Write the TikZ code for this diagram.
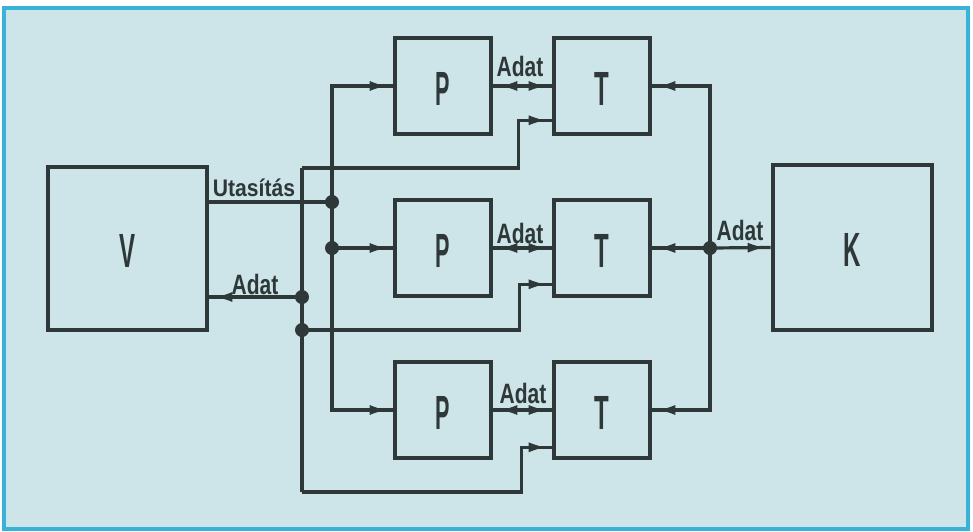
\documentclass[tikz,border=0pt]{standalone}
\usepackage{fontspec}
\setmainfont{Liberation Sans}
\usetikzlibrary{arrows.meta,calc}
\definecolor{bg}{HTML}{CDE4E8}
\definecolor{frame}{HTML}{38B2D6}
\definecolor{ink}{HTML}{2E3838}
\tikzset{
  myarr/.tip={Latex[length=16pt,width=10pt]}
}
\begin{document}
\begin{tikzpicture}[x=1pt,y=-1pt,
  conn/.style={draw=ink,line width=3.2pt},
  box/.style={draw=ink,line width=4.6pt,inner sep=0pt,minimum width=96pt,minimum height=96pt},
  bigbox/.style={box,minimum width=159pt,minimum height=163pt},
  big/.style={text=ink,font=\fontsize{48}{48}\selectfont\bfseries,inner sep=0pt},
  lab/.style={text=ink,font=\fontsize{28}{28}\selectfont\bfseries,inner sep=0pt},
  dot/.style={fill=ink},
  tipin/.style={postaction={draw=ink,line width=1pt,shorten >=7pt,-myarr}},
  tipboth/.style={postaction={draw=ink,line width=1pt,shorten >=7pt,shorten <=8pt,myarr-myarr}}
]
\useasboundingbox (0,0) rectangle (973,531);
\fill[white] (0,0) rectangle (973,531);
\fill[bg] (4,8) rectangle (968,529);
\draw[frame,line width=4pt] (4,8) rectangle (968,529);

% boxes
\node[bigbox] (V) at (127.5,248.5) {};
\node[bigbox,minimum height=165pt] (K) at (852.5,247.5) {};
\node[box] (P1) at (443,86) {};
\node[box] (P2) at (443,248) {};
\node[box] (P3) at (443,410) {};
\node[box] (T1) at (602,86) {};
\node[box] (T2) at (602,248) {};
\node[box] (T3) at (602,410) {};

\node[big] (Vt) at ($(V.center)+(0,2)$) {\scalebox{0.5}[1]{V}};
\node[big] (Kt) at ($(K.center)+(0,2)$) {\scalebox{0.5}[1]{K}};
\foreach \n in {1,2,3}{
  \node[big] (Pt\n) at ($(P\n.center)+(0,3)$) {\scalebox{0.45}[1]{P}};
  \node[big] (Tt\n) at ($(T\n.center)+(0,3)$) {\scalebox{0.5}[1]{T}};
}

% junctions and corners
\coordinate (j1) at (332,202);
\coordinate (j2) at (332,248);
\coordinate (j3) at (302,297);
\coordinate (j4) at (302,330);
\coordinate (j5) at (710,248);
\coordinate (c1) at (302,168);
\coordinate (c3) at (302,492);
\coordinate (ti1) at ([yshift=16pt]T1.south west);
\coordinate (ti2) at ([yshift=14pt]T2.south west);
\coordinate (ti3) at ([yshift=13pt]T3.south west);

% Utasitas bus
\draw[conn] (V.east |- j1) -- (j1);
\draw[conn,tipin] (j1) |- (P1.west);
\draw[conn,tipin] (j1) |- (P3.west);
\draw[conn,tipin] (j2) -- (P2.west);

% Adat bus on the left
\draw[conn,tipin] (j3) -- (V.east |- j3);
\draw[conn] (c1) -- (c3);
\draw[conn,tipin] (c1) -| ([xshift=-33pt]ti1) -- (ti1);
\draw[conn,tipin] (j4) -| ([xshift=-32pt]ti2) -- (ti2);
\draw[conn,tipin] (c3) -| ([xshift=-30pt]ti3) -- (ti3);

% P <-> T
\draw[conn,tipboth] (P1.east) -- (T1.west);
\draw[conn,tipboth] (P2.east) -- (T2.west);
\draw[conn,tipboth] (P3.east) -- (T3.west);

% right bus
\draw[conn,tipin] (j5) |- (T1.east);
\draw[conn,tipin] (j5) |- (T3.east);
\draw[conn,tipin] (j5) -- (T2.east);
\draw[conn,tipin] (j5) -- (K.west);

\foreach \j in {j1,j2,j3,j4,j5}{\fill[dot] (\j) circle (7pt);}

% labels
\node[text=ink,inner sep=0pt,font=\fontsize{24}{24}\selectfont\bfseries] (lu) at (254,188) {\scalebox{0.88}[1]{Utasítás}};
\node[lab] (la0) at (255,284) {\scalebox{0.75}[1]{Adat}};
\node[lab] (la1) at (520,66) {\scalebox{0.75}[1]{Adat}};
\node[lab] (la2) at (520,233) {\scalebox{0.75}[1]{Adat}};
\node[lab] (la3) at (523,393) {\scalebox{0.75}[1]{Adat}};
\node[lab] (la4) at (740,230) {\scalebox{0.75}[1]{Adat}};
\end{tikzpicture}
\end{document}
